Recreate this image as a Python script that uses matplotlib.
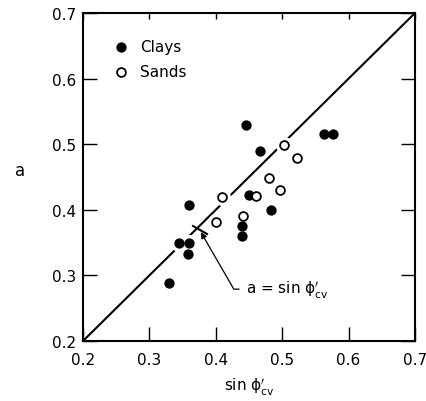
import matplotlib
matplotlib.use("Agg")
import matplotlib.pyplot as plt

# sin(phi'_cv) and measured a for each soil group
clay_sin = [0.330, 0.345, 0.360, 0.358, 0.360, 0.440, 0.440, 0.450, 0.483,
            0.446, 0.466, 0.563, 0.577]
clay_a = [0.288, 0.349, 0.349, 0.333, 0.408, 0.376, 0.360, 0.422, 0.400,
          0.530, 0.489, 0.516, 0.516]
sand_sin = [0.400, 0.409, 0.441, 0.460, 0.480, 0.496, 0.503, 0.522]
sand_a = [0.382, 0.419, 0.390, 0.421, 0.449, 0.430, 0.499, 0.479]

ticks = [0.2, 0.3, 0.4, 0.5, 0.6, 0.7]
tick_labels = ["0.2", "0.3", "0.4", "0.5", "0.6", "0.7"]

plt.rcParams["font.family"] = "DejaVu Sans"
plt.rcParams["font.size"] = 11
plt.rcParams["mathtext.fontset"] = "dejavusans"

fig = plt.figure(figsize=(4.27, 4.02), dpi=100)
ax = fig.add_axes([0.1944, 0.1493, 0.7775, 0.8159])

# a = sin phi'_cv
ax.plot([0.2, 0.7], [0.2, 0.7], color="black", lw=1.5, zorder=1)

# white gaps in the line around each point
ax.scatter(clay_sin + sand_sin, clay_a + sand_a, s=150, color="white",
           linewidths=0, zorder=2)

ax.scatter(clay_sin, clay_a, s=55, color="black", linewidths=0, zorder=3,
           label="Clays")
ax.scatter(sand_sin, sand_a, s=40, facecolors="white", edgecolors="black",
           linewidths=1.3, zorder=3, label="Sands")

sin_cv = r"sin $\mathrm{\phi}^{\prime}_{\mathrm{cv}}$"

# marker bar on the line and the leader to its label
ax.plot([0.3657, 0.3868], [0.3753, 0.3631], color="black", lw=1.5, zorder=4)
ax.annotate("a = " + sin_cv, xy=(0.3775, 0.3660),
            xytext=(0.4455, 0.279), va="center", ha="left",
            arrowprops=dict(arrowstyle="-|>", color="black", lw=0.9,
                            shrinkA=3, shrinkB=0, mutation_scale=9,
                            connectionstyle="angle,angleA=0,angleB=120,rad=0"))

ax.set_xlim(0.2, 0.7)
ax.set_ylim(0.2, 0.7)
ax.set_xticks(ticks, tick_labels)
ax.set_yticks(ticks, tick_labels)

ax.tick_params(direction="in", length=10, width=1, top=True, right=True,
               labelsize=11)
ax.tick_params(axis="x", pad=8)
ax.tick_params(axis="y", pad=5)
for t in ax.xaxis.get_major_ticks():
    t.tick2line.set_markersize(4)

for sp in ax.spines.values():
    sp.set_linewidth(1.5)

ax.set_xlabel(sin_cv, fontsize=11, labelpad=6)
ax.set_ylabel("a", fontsize=12, rotation=0, va="center", ha="center")
ax.yaxis.set_label_coords(-0.19, 0.52)

ax.legend(loc="upper left", bbox_to_anchor=(0.067, 0.943), frameon=False,
          borderpad=0, handlelength=1.0, handletextpad=0.8,
          labelspacing=0.65, fontsize=11, scatterpoints=1)

fig.savefig("out.png", dpi=100)
